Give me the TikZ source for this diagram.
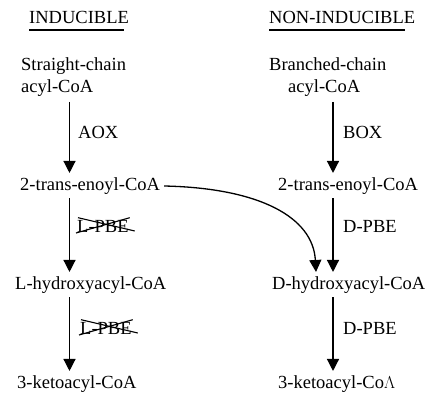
\documentclass[tikz,border=0pt]{standalone}
\usepackage{fontspec}
\setmainfont{Liberation Serif}
\usetikzlibrary{arrows.meta}
\begin{document}
\begin{tikzpicture}[x=1pt,y=-1pt,
  lbl/.style={anchor=base west,inner sep=0pt,font=\fontsize{18.5}{22}\selectfont},
  arr/.style={line width=1.3pt,-{Triangle[width=12pt,length=12pt]}},
  xline/.style={line width=1.1pt}]
\useasboundingbox (0,0) rectangle (435,398);
\coordinate (xL) at (69.5,0);
\coordinate (xR) at (333,0);
\coordinate (xC) at (316,0);
% headings
\node[lbl] (ind) at (29,24) {INDUCIBLE};
\node[lbl] (nind) at (269,24) {NON-INDUCIBLE};
\draw[line width=1.1pt] ([yshift=-6pt]ind.base west) -- ([xshift=-5pt,yshift=-6pt]ind.base east);
\draw[line width=1.1pt] ([yshift=-6pt]nind.base west) -- ([xshift=-10pt,yshift=-6pt]nind.base east);
% left column
\node[lbl] (scL) at (21,71) {Straight-chain};
\node[lbl] (acylL) at (21,93) {acyl-CoA};
\node[lbl] (aox) at (78,139) {AOX};
\node[lbl] (enL) at (20,190) {2-trans-enoyl-CoA};
\node[lbl] (lpbe1) at (77,232) {L-PBE};
\node[lbl] (lhyd) at (15,289) {L-hydroxyacyl-CoA};
\node[lbl] (lpbe2) at (80,334) {L-PBE};
\node[lbl] (ketL) at (17,388) {3-ketoacyl-CoA};
% right column
\node[lbl] (bcR) at (269,71) {Branched-chain};
\node[lbl] (acylR) at (288,93) {acyl-CoA};
\node[lbl] (box) at (343,139) {BOX};
\node[lbl] (enR) at (278,190) {2-trans-enoyl-CoA};
\node[lbl] (dpbe1) at (343,232) {D-PBE};
\node[lbl] (dhyd) at (272,289) {D-hydroxyacyl-CoA};
\node[lbl] (dpbe2) at (343,334) {D-PBE};
\node[lbl] (ketR) at (278,388) {3-ketoacyl-Co$\Lambda$};
% crosses
\foreach \n in {lpbe1,lpbe2}{
  \draw[xline] ([xshift=1pt,yshift=2pt]\n.north west) -- ([xshift=6pt,yshift=1pt]\n.base east);
  \draw[xline] ([xshift=-1pt,yshift=-1pt]\n.base west) -- ([xshift=1pt,yshift=2pt]\n.north east);
}
% arrows
\draw[arr] ([yshift=-9pt]acylL.base -| xL) -- ([yshift=4pt]enL.north -| xL);
\draw[arr] ([yshift=-8pt]enL.base -| xL) -- ([yshift=4pt]lhyd.north -| xL);
\draw[arr] ([yshift=-8pt]lhyd.base -| xL) -- ([yshift=4pt]ketL.north -| xL);
\draw[arr] ([yshift=-9pt]acylR.base -| xR) -- ([yshift=4pt]enR.north -| xR);
\draw[arr] ([yshift=-8pt]enR.base -| xR) -- ([yshift=4pt]dhyd.north -| xR);
\draw[arr] ([yshift=-8pt]dhyd.base -| xR) -- ([yshift=4pt]ketR.north -| xR);
\draw[arr] ([xshift=4pt,yshift=4pt]enL.base east) .. controls +(95,2) and +(-3,-55) .. ([yshift=4pt]dhyd.north -| xC);
\end{tikzpicture}
\end{document}
